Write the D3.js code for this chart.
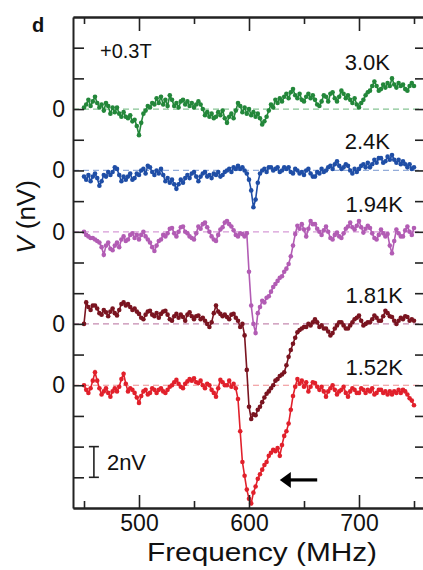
<!DOCTYPE html>
<html>
<head>
<meta charset="utf-8">
<script src="https://cdn.jsdelivr.net/npm/d3@7"></script>
<style>
  body { margin: 0; background: #fff; }
  svg { display: block; font-family: "Liberation Sans", Arial, Helvetica, sans-serif; }
</style>
</head>
<body>
<svg id="chart" width="423" height="570"></svg>
<script>
// frequency grid of the sweep (MHz)
const freqs = d3.range(450, 751, 2);

const tempLabels = ["3.0K", "2.4K", "1.94K", "1.81K", "1.52K"];
const zeroOffsets = [26, 22, 18, 12, 8]; // nV, where each trace's "0" sits
const xTicksMajor = [500, 600, 700];
const xTicksMinor = [450, 550, 650, 750];
const yTicks = d3.range(2, 31, 2);

// signal (nV), one value per 2 MHz from 450 to 750
const v30 = [
  0.1, 0.3, 0.6, 0.2, 0.5,   0.8, 0.4, 0.1, 0.3, -0.1,
  0.4, 0.2, -0.3, 0.1, -0.2,  0.1, -0.3, -0.5, -0.2, -0.5,
  -0.6, -0.4, -0.8, -0.7, -1.1,  -1.7, -0.9, -0.3, -0.1, 0.2,
  0.1, 0.4, 0.3, 0.7, 0.4,   0.8, 0.3, 0.6, 0.2, 0.9,
  0.6, 0.2, 0.4, 0.1, 0.5,   0.6, 0.3, 0.5, 0.2, 0.4,
  0.1, 0.3, 0.5, 0.3, 0.0,   -0.4, -0.2, -0.5, -0.3, -0.6,
  -0.5, -0.2, -0.4, -0.1, -0.6,  -0.9, -0.5, -0.3, -0.6, -0.1,
  0.4, 0.2, -0.2, 0.1, -0.3,  0.0, -0.4, -0.2, -0.5, -0.3,
  -0.6, -1.0, -0.8, -0.5, -0.1,  0.3, 0.1, 0.6, 0.4, 0.7,
  0.5, 0.8, 1.0, 0.7, 1.1,   1.3, 0.9, 0.7, 1.0, 0.6,
  0.5, 0.8, 1.0, 0.7, 0.9,   0.6, 0.3, 0.2, 0.5, 0.9,
  0.8, 0.5, 1.0, 1.1, 0.7,   0.5, 0.8, 1.2, 1.0, 0.7,
  0.9, 0.6, 0.4, 0.7, 0.3,   0.1, 0.4, 0.6, 0.9, 1.1,
  1.2, 1.5, 1.8, 1.5, 1.2,   1.3, 1.6, 1.4, 1.7, 1.5,
  2.0, 1.6, 1.4, 1.7, 1.5,   1.6, 1.3, 1.2, 1.5, 1.7,
  1.5
];
const v24 = [
  -0.4, -0.6, -0.3, -0.7, -0.4,  -0.2, -0.5, -1.0, -0.7, -0.3,
  -0.4, -0.1, -0.3, -0.1, 0.2,  0.1, -0.3, -0.7, -0.4, -0.6,
  -0.4, -0.2, -0.6, -0.5, -0.2,  -0.3, 0.0, 0.1, -0.2, 0.3,
  0.2, -0.1, -0.3, 0.0, -0.2,  0.1, -0.3, -0.7, -0.5, -0.8,
  -0.6, -0.9, -1.2, -0.9, -0.6,  -0.8, -0.5, -0.3, -0.5, -0.2,
  -0.1, -0.4, -0.7, -0.4, -0.2,  -0.1, -0.4, -0.3, -0.5, -0.2,
  -0.3, -0.1, -0.4, -0.3, -0.1,  0.0, 0.1, -0.1, 0.2, 0.1,
  0.3, 0.1, 0.2, 0.0, -0.2,  -0.6, -1.3, -2.4, -1.9, -0.8,
  -0.2, 0.0, 0.1, -0.1, 0.2,  0.2, 0.0, 0.1, 0.2, -0.1,
  0.0, 0.2, 0.1, 0.2, -0.1,  -0.2, 0.1, 0.0, -0.2, -0.1,
  -0.3, 0.0, 0.1, -0.2, -0.4,  -0.4, -0.1, -0.2, 0.1, -0.1,
  0.0, 0.2, 0.3, 0.1, 0.4,   0.6, 0.3, 0.1, 0.2, 0.4,
  0.3, 0.0, -0.2, 0.1, -0.1,  0.1, 0.3, 0.4, 0.2, 0.5,
  0.2, 0.4, 0.7, 0.5, 0.8,   0.8, 0.5, 0.6, 0.9, 0.7,
  1.0, 0.7, 0.5, 0.7, 0.4,   0.6, 0.4, 0.2, 0.4, 0.1,
  0.2
];
const v194 = [
  0.0, -0.2, -0.3, -0.4, -0.4,  -0.5, -0.6, -0.7, -1.0, -1.5,
  -0.9, -0.7, -1.1, -1.2, -0.9,  -0.7, -1.0, -0.5, -0.3, -0.6,
  -0.5, -0.2, -0.1, -0.4, -0.2,  -0.5, -0.2, 0.0, -0.3, -0.5,
  -0.7, -1.0, -1.25, -0.9, -0.6,  -0.5, -0.2, -0.3, -0.1, 0.2,
  0.25, -0.1, -0.3, 0.0, 0.3,  0.35, 0.0, -0.1, -0.3, -0.4,
  -0.5, -0.1, 0.35, 0.2, 0.5,  0.6, 0.3, 0.0, -0.3, -0.5,
  -0.6, -0.2, 0.15, 0.3, 0.6,  0.7, 0.5, 0.35, 0.1, -0.2,
  -0.3, -0.1, -0.15, -0.3, -0.1,  -2.6, -4.8, -6.0, -6.6, -5.3,
  -4.9, -4.5, -4.6, -4.3, -4.2,  -3.9, -3.6, -3.4, -3.2, -3.0,
  -2.9, -2.6, -2.4, -2.1, -1.6,  -0.9, -0.15, 0.4, 0.2, 0.5,
  0.15, -0.3, 0.2, 0.7, 0.5,  0.5, 0.2, 0.0, -0.2, 0.1,
  0.35, 0.0, -0.4, -0.5, -0.2,  -0.05, -0.3, -0.4, -0.1, 0.2,
  0.35, 0.6, 0.3, 0.15, 0.4,  0.7, 0.3, -0.05, 0.2, 0.4,
  0.25, -0.1, -0.4, -0.5, -0.2,  0.15, -0.1, -0.3, -0.15, -0.9,
  -1.4, -0.6, 0.15, -0.1, -0.3,  -0.3, 0.1, 0.35, 0.0, -0.2,
  0.25
];
const v181 = [
  0.0, 1.4, 1.1, 0.9, 1.2,   1.2, 1.0, 0.7, 0.6, 0.9,
  0.75, 0.5, 0.8, 1.0, 0.7,  0.55, 0.9, 1.3, 1.4, 1.2,
  1.3, 1.1, 0.9, 1.0, 0.8,   0.65, 0.4, 0.3, 0.6, 0.8,
  0.85, 0.6, 0.5, 0.7, 0.4,  0.65, 0.8, 0.85, 0.6, 0.3,
  0.2, 0.5, 0.65, 0.4, 0.6,  0.45, 0.2, 0.6, 0.75, 0.5,
  0.3, 0.5, 0.55, 0.3, 0.4,  0.2, 0.0, -0.2, 0.1, 0.7,
  1.2, 0.8, 0.65, 0.5, 0.6,  0.45, 0.3, 0.6, 0.65, 0.4,
  0.2, -0.2, 0.0, -0.75, -3.0,  -5.4, -6.2, -5.9, -5.95, -5.6,
  -5.4, -5.1, -4.8, -4.55, -4.4,  -4.2, -4.0, -3.7, -3.6, -3.4,
  -3.3, -3.15, -2.7, -2.15, -1.7,  -1.3, -0.9, -0.55, -0.4, -0.3,
  -0.2, -0.2, 0.0, -0.1, 0.1,  0.3, 0.1, -0.2, -0.1, -0.3,
  -0.3, -0.5, -0.75, -0.6, -0.3,  -0.1, 0.1, 0.1, -0.1, -0.3,
  -0.3, -0.1, 0.1, 0.3, 0.4,  0.55, 0.2, -0.1, 0.0, 0.1,
  0.1, 0.3, 0.55, 0.4, 0.2,  0.2, 0.5, 0.85, 0.7, 0.5,
  0.45, 0.2, 0.0, 0.2, 0.4,  0.3, 0.5, 0.45, 0.2, 0.3,
  0.2
];
const v152 = [
  0.0, -0.3, -0.5, -0.2, 0.3,  0.85, 0.3, -0.2, -0.6, -0.4,
  -0.2, -0.5, -0.75, -0.4, -0.2,  -0.4, -0.1, 0.4, 0.75, 0.1,
  -0.4, -0.2, -0.3, -0.5, -0.8,  -1.15, -0.7, -0.4, -0.3, -0.6,
  -0.5, -0.2, -0.3, -0.5, -0.3,  -0.2, -0.4, -0.5, -0.3, -0.1,
  0.0, 0.2, 0.35, 0.1, -0.1,  -0.2, 0.1, 0.25, 0.4, 0.3,
  0.45, 0.2, 0.15, 0.3, 0.0,  -0.2, 0.1, 0.0, -0.3, -0.5,
  -0.75, -0.2, 0.35, 0.2, 0.0,  0.0, 0.3, -0.1, 0.1, -0.2,
  -0.9, -3.0, -5.0, -5.9, -6.8,  -7.4, -7.7, -7.0, -6.6, -6.1,
  -5.8, -5.5, -5.2, -5.0, -4.6,  -4.4, -4.2, -4.3, -4.1, -4.6,
  -3.9, -3.3, -3.0, -2.5, -1.6,  -0.7, -0.1, 0.4, 0.1, 0.3,
  -0.1, 0.2, -0.4, -0.1, 0.2,  0.15, -0.1, -0.3, -0.1, -0.4,
  -0.75, -0.4, -0.2, 0.0, -0.3,  -0.6, -0.4, -0.3, -0.1, -0.5,
  -0.75, -0.4, -0.2, -0.3, -0.5,  -0.5, -0.2, -0.3, -0.5, -0.3,
  -0.4, -0.2, -0.6, -0.5, -0.3,  -0.3, -0.5, -0.4, -0.6, -0.4,
  -0.6, -0.4, -0.5, -0.3, -0.5,  -0.3, -0.4, -0.6, -0.85, -1.0,
  -1.3
];
const seriesValues = [v30, v24, v194, v181, v152];

const traceColors = ["#23873a", "#1f4ea6", "#b25cb4", "#7a1420", "#e1202b"];
const zeroColors = ["#86c494", "#93acd9", "#d69ad6", "#c58ab0", "#f08a8f"];

const svg = d3.select("#chart");
const x = d3.scaleLinear().domain([440, 760]).range([73, 425]);
const y = d3.scaleLinear().domain([0, 32]).range([508, 17]);

// zero reference lines
svg.selectAll(".zero")
  .data(zeroOffsets)
  .enter()
  .append("line")
  .attr("class", "zero")
  .attr("x1", x(440)).attr("x2", x(760))
  .attr("y1", d => y(d)).attr("y2", d => y(d))
  .attr("stroke", (d, i) => zeroColors[i])
  .attr("stroke-width", 1.2)
  .attr("stroke-dasharray", "6,4");

// traces: line + dots
const line = d3.line()
  .x(d => x(d.f))
  .y(d => y(d.v));

seriesValues.forEach((vals, i) => {
  const pts = vals.map((v, j) => ({ f: freqs[j], v: v + zeroOffsets[i] }));
  const g = svg.append("g");
  g.append("path")
    .datum(pts)
    .attr("fill", "none")
    .attr("stroke", traceColors[i])
    .attr("stroke-width", 1.6)
    .attr("d", line);
  g.selectAll("circle")
    .data(pts)
    .enter()
    .append("circle")
    .attr("cx", d => x(d.f))
    .attr("cy", d => y(d.v))
    .attr("r", 2.3)
    .attr("fill", traceColors[i]);
});

// axes (ticks pointing inward, frame on all sides)
function styleAxis(sel) {
  sel.selectAll(".domain").attr("stroke", "#222").attr("stroke-width", 2);
  sel.selectAll(".tick line").attr("stroke", "#222").attr("stroke-width", 1.6);
  sel.selectAll(".tick text").attr("fill", "#111");
}

svg.append("g")
  .attr("transform", "translate(0," + y(0) + ")")
  .call(d3.axisBottom(x).tickValues(xTicksMajor).tickSizeInner(-13).tickSizeOuter(0).tickPadding(6))
  .call(styleAxis)
  .call(g => g.selectAll(".tick text").attr("font-size", 23).attr("dy", "0.72em"));
svg.append("g")
  .attr("transform", "translate(0," + y(0) + ")")
  .call(d3.axisBottom(x).tickValues(xTicksMinor).tickSizeInner(-7).tickSizeOuter(0).tickFormat(""))
  .call(styleAxis);
svg.append("g")
  .attr("transform", "translate(0," + y(32) + ")")
  .call(d3.axisTop(x).tickValues(xTicksMajor).tickSizeInner(-14).tickSizeOuter(0).tickFormat(""))
  .call(styleAxis);
svg.append("g")
  .attr("transform", "translate(0," + y(32) + ")")
  .call(d3.axisTop(x).tickValues(xTicksMinor).tickSizeInner(-7).tickSizeOuter(0).tickFormat(""))
  .call(styleAxis);

svg.append("g")
  .attr("transform", "translate(" + x(440) + ",0)")
  .call(d3.axisLeft(y).tickValues(yTicks).tickSizeInner(-11).tickSizeOuter(0).tickPadding(8)
    .tickFormat(d => zeroOffsets.includes(d) ? "0" : ""))
  .call(styleAxis)
  .call(g => g.selectAll(".tick text").attr("font-size", 23));
svg.append("g")
  .attr("transform", "translate(" + x(760) + ",0)")
  .call(d3.axisRight(y).tickValues(yTicks).tickSizeInner(-10).tickSizeOuter(0).tickFormat(""))
  .call(styleAxis);

// temperature labels
const labelPos = [[390, 70], [390, 149], [403, 212], [403, 303], [403, 375]];
svg.selectAll(".temp")
  .data(tempLabels)
  .enter()
  .append("text")
  .attr("class", "temp")
  .attr("x", (d, i) => labelPos[i][0])
  .attr("y", (d, i) => labelPos[i][1])
  .attr("text-anchor", "end")
  .attr("font-size", 22)
  .attr("fill", "#111")
  .text(d => d);

// panel letter and field
svg.append("text").attr("x", 32).attr("y", 32)
  .attr("font-size", 20).attr("font-weight", "bold").attr("fill", "#111").text("d");
svg.append("text").attr("x", 100).attr("y", 58)
  .attr("font-size", 20).attr("fill", "#111").text("+0.3T");

// axis titles
svg.append("text")
  .attr("x", 147).attr("y", 561)
  .attr("font-size", 25)
  .attr("textLength", 230)
  .attr("lengthAdjust", "spacingAndGlyphs")
  .attr("fill", "#111")
  .text("Frequency (MHz)");

const yl = svg.append("text")
  .attr("transform", "translate(35,217) rotate(-90)")
  .attr("text-anchor", "middle")
  .attr("font-size", 26)
  .attr("fill", "#111");
yl.append("tspan").attr("font-style", "italic").text("V");
yl.append("tspan").text(" (nV)");

// 2 nV scale bar
const sbX = x(459);
const sb = svg.append("g").attr("stroke", "#222").attr("stroke-width", 1.6);
sb.append("line").attr("x1", sbX).attr("x2", sbX).attr("y1", y(2)).attr("y2", y(4));
sb.append("line").attr("x1", sbX - 5).attr("x2", sbX + 5).attr("y1", y(2)).attr("y2", y(2));
sb.append("line").attr("x1", sbX - 5).attr("x2", sbX + 5).attr("y1", y(4)).attr("y2", y(4));
svg.append("text").attr("x", sbX + 13).attr("y", y(3) + 8)
  .attr("font-size", 22).attr("fill", "#111").text("2nV");

// arrow
const ay = y(1.83);
svg.append("line")
  .attr("x1", x(628) + 8).attr("x2", x(662))
  .attr("y1", ay).attr("y2", ay)
  .attr("stroke", "#000").attr("stroke-width", 3.2);
svg.append("path")
  .attr("d", "M" + x(628) + "," + ay + " L" + (x(628) + 11) + "," + (ay - 8) +
             " L" + (x(628) + 11) + "," + (ay + 8) + " Z")
  .attr("fill", "#000");
</script>
</body>
</html>
